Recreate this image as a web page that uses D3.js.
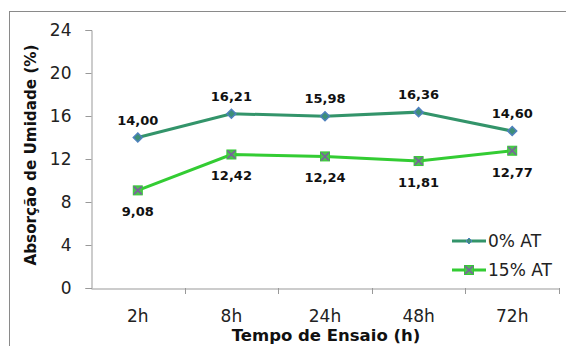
<!DOCTYPE html>
<html><head><meta charset="utf-8">
<script src="https://cdn.jsdelivr.net/npm/d3@7"></script>
<style>body{margin:0;background:#fff}svg{display:block;font-family:"DejaVu Sans",sans-serif}</style>
</head><body><svg id="c" width="566" height="346"></svg>
<script>
const categories = ["2h","8h","24h","48h","72h"];
const seriesNames = ["0% AT","15% AT"];
const at0 = [14.00,16.21,15.98,16.36,14.60];
const at15 = [9.08,12.42,12.24,11.81,12.77];
const yTicks = [0,4,8,12,16,20,24];

const svg = d3.select("#c");
const L=91, R=559, T=30, B=288;
const x = d3.scaleBand().domain(categories).range([L,R]);
const y = d3.scaleLinear().domain([0,24]).range([B,T]);
const fmt = v => v.toFixed(2).replace(".",",");

svg.append("rect").attr("x",9.5).attr("y",11.5).attr("width",620).attr("height",400)
  .attr("fill","#fff").attr("stroke","#8a8a8a").attr("stroke-width",1);

const yAx = svg.append("g").attr("transform",`translate(${L+0.5},0)`)
  .call(d3.axisLeft(y).tickValues(yTicks).tickSize(6).tickPadding(14).tickFormat(d3.format("d")));
yAx.select(".domain").attr("stroke","#999");
yAx.selectAll(".tick line").attr("stroke","#999");
yAx.selectAll("text").attr("font-size",17).attr("fill","#222").attr("font-family","DejaVu Sans");

const xAx = svg.append("g").attr("transform",`translate(0,${B+0.5})`)
  .call(d3.axisBottom(x).tickSize(0).tickPadding(21));
xAx.select(".domain").attr("stroke","#999");
xAx.selectAll(".tick line").remove();
xAx.selectAll("text").attr("font-size",17).attr("fill","#222").attr("font-family","DejaVu Sans");
// category boundary ticks
const bounds = categories.map(c=>x(c)).concat([R]).slice(1);
svg.append("g").selectAll("line").data(bounds).join("line")
  .attr("x1",d=>Math.round(d)+0.5).attr("x2",d=>Math.round(d)+0.5)
  .attr("y1",B).attr("y2",B+6).attr("stroke","#999");

const cx = c => x(c)+x.bandwidth()/2;
const line = d3.line().x((d,i)=>cx(categories[i])).y(d=>y(d));

// series 0%
svg.append("path").datum(at0).attr("d",line).attr("fill","none").attr("stroke","#33946a").attr("stroke-width",3);
// series 15%
svg.append("path").datum(at15).attr("d",line).attr("fill","none").attr("stroke","#33cc33").attr("stroke-width",3);

function diamond(g,px,py){
  g.append("path").attr("d",`M${px},${py-4.5}L${px+4.5},${py}L${px},${py+4.5}L${px-4.5},${py}Z`)
   .attr("fill","#3d8f77").attr("stroke","#4f81bd").attr("stroke-width",1.5);
}
function squareX(g,px,py){
  g.append("rect").attr("x",px-4.5).attr("y",py-4.5).attr("width",9).attr("height",9)
   .attr("fill","#4fbf4f").attr("stroke","#33cc33").attr("stroke-width",1);
  g.append("path").attr("d",`M${px-4},${py-4}L${px+4},${py+4}M${px+4},${py-4}L${px-4},${py+4}`)
   .attr("stroke","#7a5fa0").attr("stroke-width",1.5);
}
const mk = svg.append("g");
at0.forEach((v,i)=>diamond(mk,cx(categories[i]),y(v)));
at15.forEach((v,i)=>squareX(mk,cx(categories[i]),y(v)));

const lab = svg.append("g").attr("font-size",13).attr("font-weight","bold").attr("fill","#111").attr("text-anchor","middle");
at0.forEach((v,i)=>lab.append("text").attr("x",cx(categories[i])).attr("y",y(v)-13).text(fmt(v)));
at15.forEach((v,i)=>lab.append("text").attr("x",cx(categories[i])).attr("y",y(v)+26).text(fmt(v)));

// axis titles
svg.append("text").attr("transform","translate(36,155) rotate(-90)").attr("text-anchor","middle")
  .attr("font-size",15.2).attr("font-weight","bold").attr("fill","#111").text("Absorção de Umidade (%)");
svg.append("text").attr("x",326).attr("y",341).attr("text-anchor","middle")
  .attr("font-size",16.5).attr("font-weight","bold").attr("fill","#111").text("Tempo de Ensaio (h)");

// legend
const leg = svg.append("g");
seriesNames.forEach((n,i)=>{
  const ly = 241 + i*29;
  leg.append("line").attr("x1",452).attr("x2",486).attr("y1",ly).attr("y2",ly)
    .attr("stroke", i===0?"#33946a":"#33cc33").attr("stroke-width",3);
  if(i===0) leg.append("path").attr("d",`M469,${ly-3}L472,${ly}L469,${ly+3}L466,${ly}Z`).attr("fill","#3d8f77").attr("stroke","#4f81bd").attr("stroke-width",1);
  else squareX(leg,469,ly);
  leg.append("text").attr("x",488).attr("y",ly+6).attr("font-size",17).attr("fill","#222").text(n);
});
</script></body></html>
